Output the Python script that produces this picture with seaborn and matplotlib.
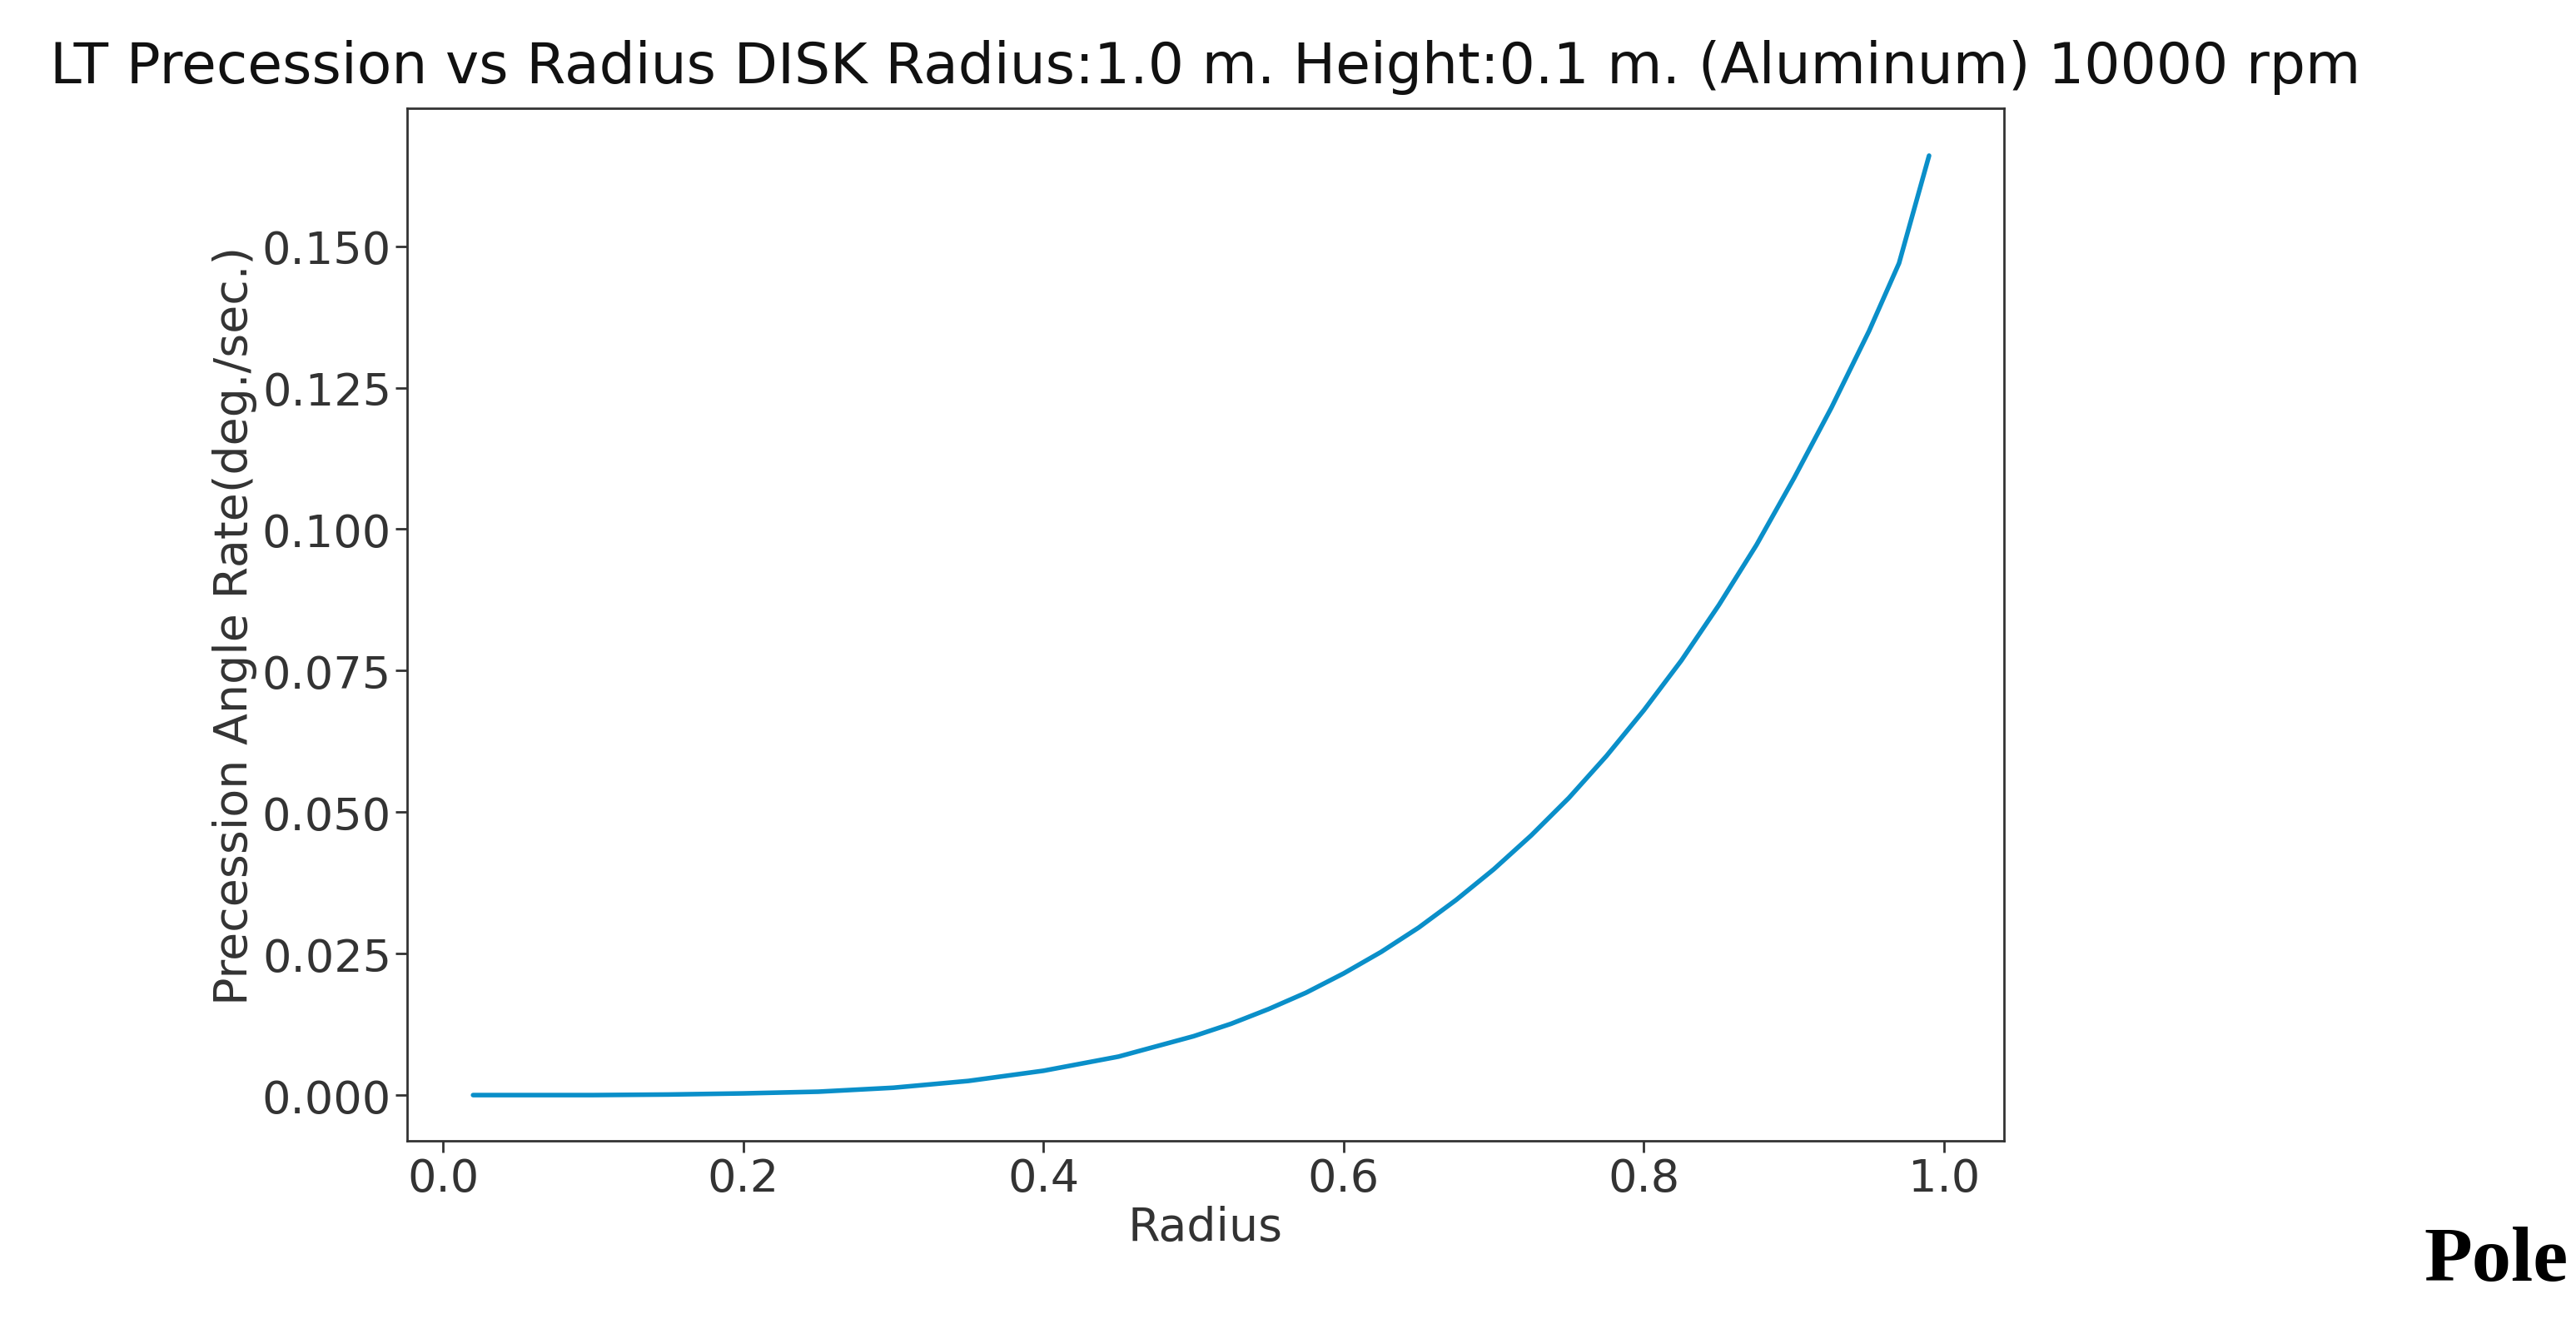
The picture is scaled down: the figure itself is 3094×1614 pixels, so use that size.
import matplotlib
matplotlib.use("Agg")
import matplotlib.pyplot as plt
import seaborn as sns
import pandas as pd

# values
radius = [0.02, 0.1, 0.15, 0.2, 0.25, 0.3, 0.35, 0.4, 0.45, 0.5, 0.525, 0.55, 0.575, 0.6,
          0.625, 0.65, 0.675, 0.7, 0.725, 0.75, 0.775, 0.8, 0.825, 0.85, 0.875, 0.9,
          0.925, 0.95, 0.97, 0.99]
rate = [0.0000, 0.0000, 0.0001, 0.0003, 0.0006, 0.0013, 0.0025, 0.0043, 0.0068, 0.0104,
        0.0126, 0.0152, 0.0181, 0.0215, 0.0253, 0.0296, 0.0345, 0.0399, 0.0459, 0.0525,
        0.0599, 0.068, 0.0768, 0.0866, 0.0972, 0.109, 0.1215, 0.135, 0.1470, 0.166]
x_ticks = [0.0, 0.2, 0.4, 0.6, 0.8, 1.0]
y_ticks = [0.000, 0.025, 0.050, 0.075, 0.100, 0.125, 0.150]

df = pd.DataFrame({"Radius": radius, "Rate": rate})

sns.set_style("ticks")
plt.rcParams['font.family'] = ['DejaVu Sans']

fig = plt.figure(figsize=(30.94, 16.15), dpi=100)
ax = fig.add_axes([0.158, 0.151, 0.62, 0.768])
sns.lineplot(data=df, x="Radius", y="Rate", ax=ax, color="#0a8fc9", linewidth=4)

ax.set_xlim(-0.024, 1.04)
ax.set_ylim(-0.0081, 0.1744)
ax.set_xticks(x_ticks)
ax.set_xticklabels([f"{v:.1f}" for v in x_ticks])
ax.set_yticks(y_ticks)
ax.set_yticklabels([f"{v:.3f}" for v in y_ticks])
ax.tick_params(labelsize=39, colors="#333333", length=10, width=2)
for s in ax.spines.values():
    s.set_linewidth(2)
    s.set_color("#333333")

ax.set_xlabel("Radius", fontsize=40, color="#333333")
ax.set_ylabel("Precession Angle Rate(deg./sec.)", fontsize=40, color="#333333")
ax.set_title("LT Precession vs Radius DISK Radius:1.0 m. Height:0.1 m. (Aluminum) 10000 rpm",
             fontsize=49, color="#111111", pad=22)

fig.text(0.997, 0.035, "Pole", fontsize=68, fontweight="bold", family="Liberation Serif",
         color="black", ha="right", va="bottom")

fig.savefig("out.png", dpi=100)
